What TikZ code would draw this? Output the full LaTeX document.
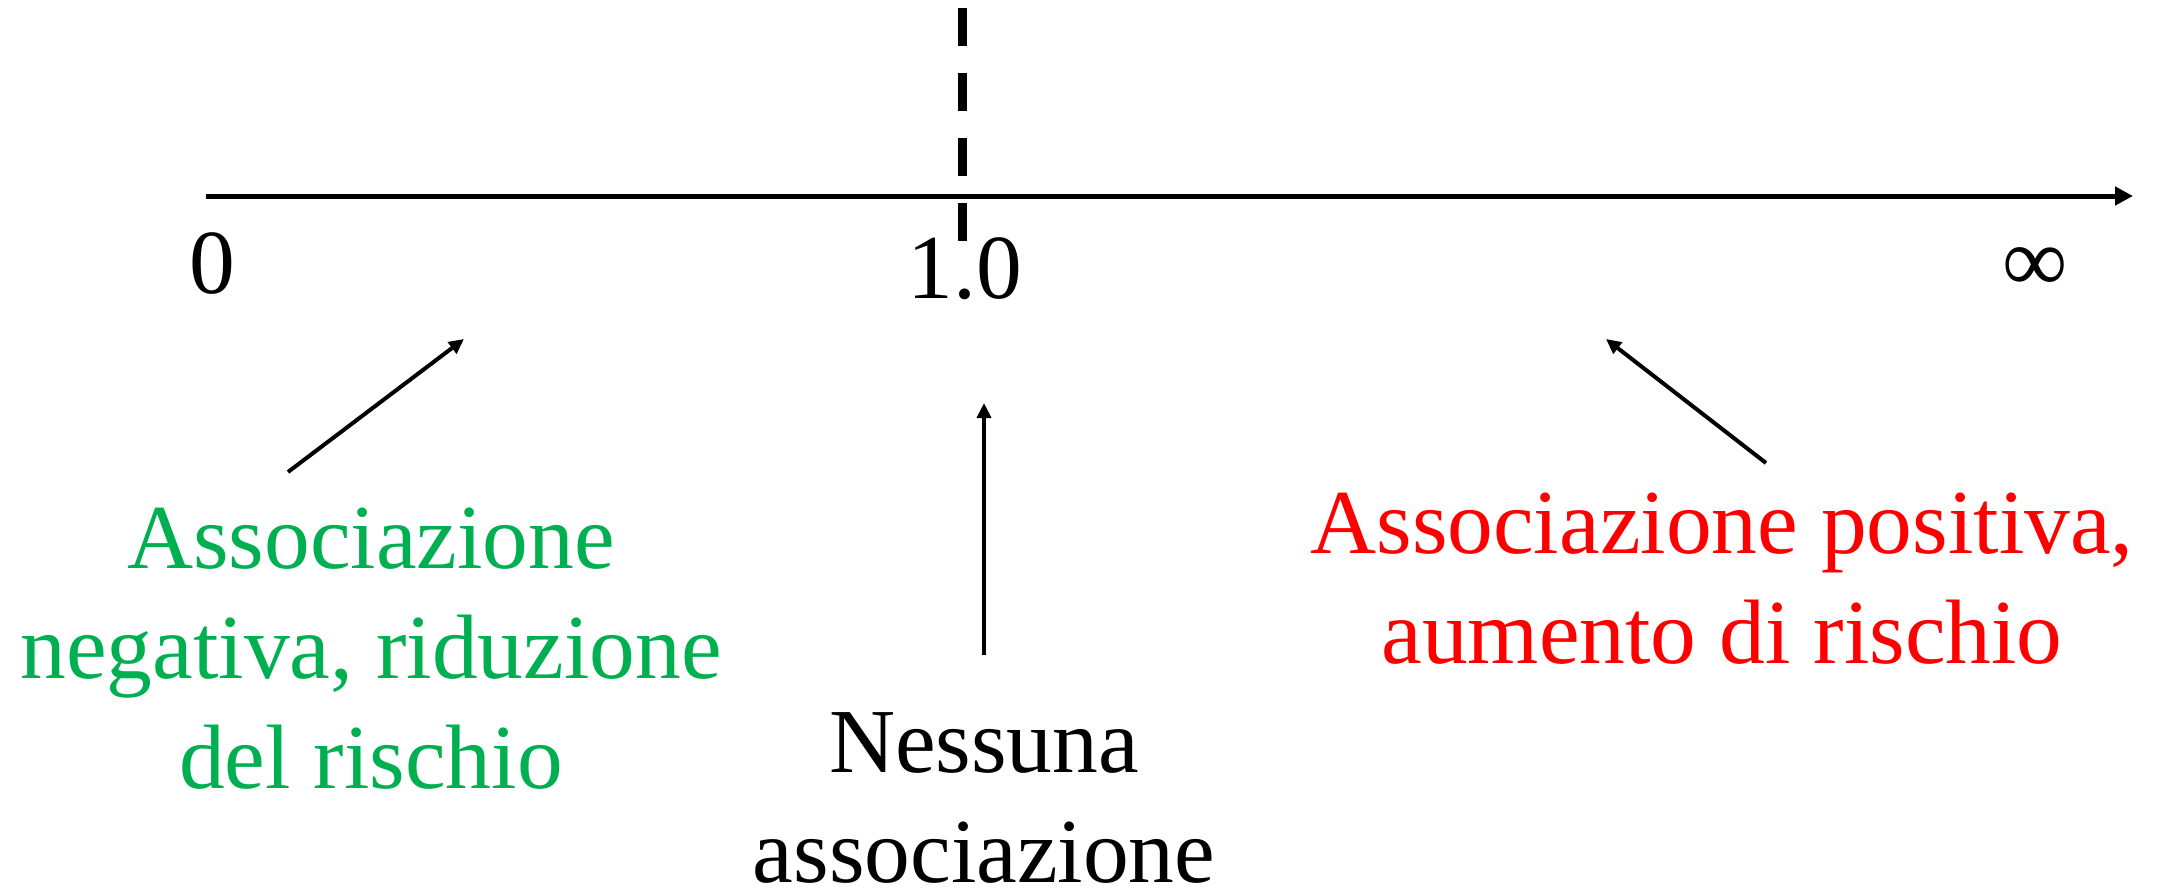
\documentclass[tikz,border=0pt]{standalone}
\usepackage{fontspec}
\setmainfont{Liberation Serif}
\usetikzlibrary{arrows.meta}
\definecolor{okgreen}{RGB}{0,176,80}
\definecolor{okred}{RGB}{255,0,0}
\begin{document}
\begin{tikzpicture}[x=1pt,y=-1pt,
  lbl/.style={inner sep=0pt,outer sep=0pt,align=center,anchor=base,
    font=\fontsize{91.5}{110}\selectfont},
  axisline/.style={line width=5pt,-{Triangle[length=18pt,width=18pt]}},
  pointer/.style={line width=4pt,-{Triangle[length=15pt,width=14pt]}}]
\useasboundingbox (0,0) rectangle (2157,889);
% axis
\coordinate (ax0) at (206,196);
\coordinate (ax1) at (2133,196);
\draw[axisline] (ax0) -- (ax1);
% dashed line at 1.0
\coordinate (d0) at (962,8);
\coordinate (d1) at (962,242);
\draw[line width=9pt,dash pattern=on 38pt off 27pt] (d0) -- (d1);
% tick labels
\node[lbl] (zero) at (212,293) {0};
\node[lbl] (one) at (965,298) {1.0};
\node[inner sep=0pt,font=\fontsize{91.5}{110}\selectfont] (inf) at (2035,270) {∞};
% labels (base anchor = baseline of last line)
\node[lbl,text=okgreen] (neg) at (371,788) {Associazione\\negativa, riduzione\\del rischio};
\node[lbl] (none) at (984,882) {Nessuna\\associazione};
\node[lbl,text=okred] (pos) at (1722,663) {Associazione positiva,\\aumento di rischio};
% pointers
\coordinate (g0) at (288,472);
\coordinate (g1) at (464,339);
\draw[pointer] (g0) -- (g1);
\coordinate (m0) at (984,655);
\coordinate (m1) at (984,403);
\draw[pointer] (m0) -- (m1);
\coordinate (r0) at (1766,463);
\coordinate (r1) at (1606,339);
\draw[pointer] (r0) -- (r1);
\end{tikzpicture}
\end{document}
